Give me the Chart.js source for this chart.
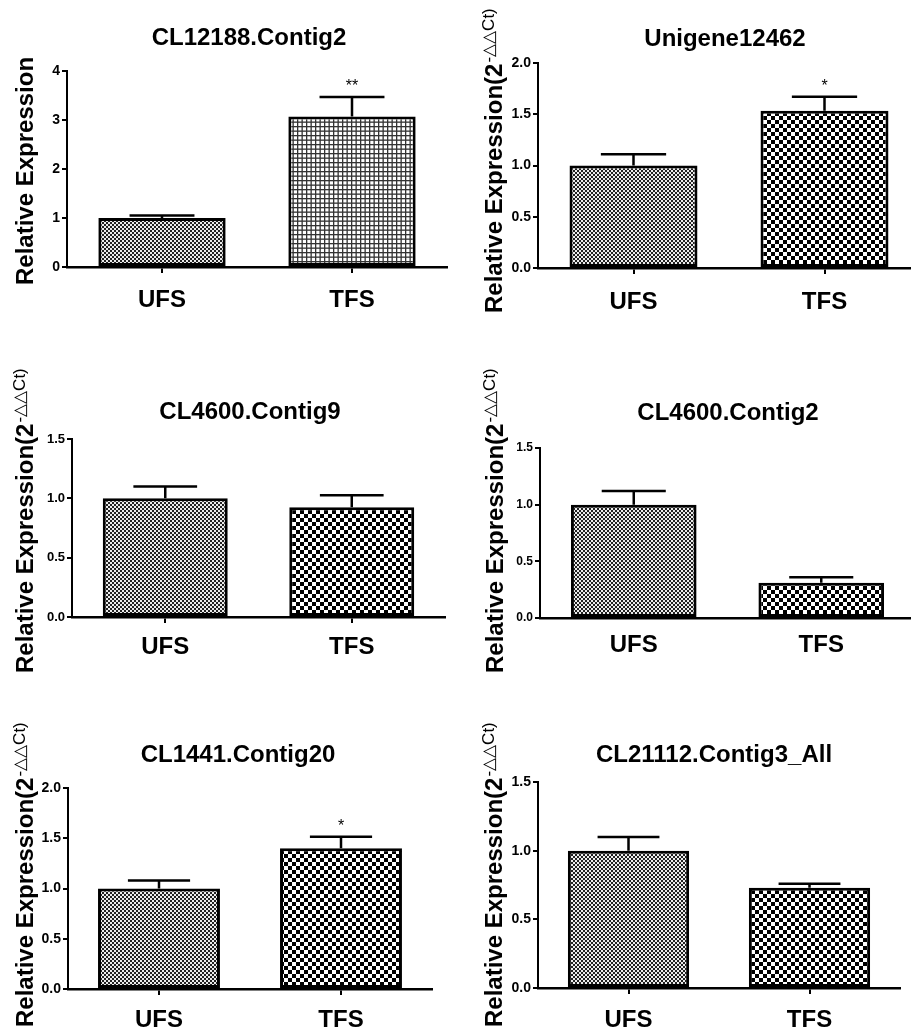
<!DOCTYPE html>
<html>
<head>
<meta charset="UTF-8">
<title>Relative Expression – UFS vs TFS</title>
<script src="https://cdn.jsdelivr.net/npm/chart.js"></script>
<style>
  html, body { margin: 0; padding: 0; background: #fff; overflow: hidden; width: 911px; height: 1032px; }
  canvas { position: absolute; }
</style>
</head>
<body>
<script>
  // ---- data ----
  const groups  = ['UFS', 'TFS'];
  const genes   = ['CL12188.Contig2', 'Unigene12462', 'CL4600.Contig9', 'CL4600.Contig2', 'CL1441.Contig20', 'CL21112.Contig3_All'];
  const ufsMean = [1.00, 1.00, 1.00, 1.00, 1.00, 1.00];
  const ufsErr  = [0.05, 0.11, 0.10, 0.12, 0.08, 0.10];
  const tfsMean = [3.07, 1.535, 0.925, 0.31, 1.40, 0.73];
  const tfsErr  = [0.40, 0.135, 0.10, 0.05, 0.115, 0.03];
  const stars   = [['', '**'], ['', '*'], ['', ''], ['', ''], ['', '*'], ['', '']];
  const yMax    = [4, 2, 1.5, 1.5, 2, 1.5];
  const yStep   = [1, 0.5, 0.5, 0.5, 0.5, 0.5];
  const yDec    = [0, 1, 1, 1, 1, 1];
  const yTitle  = ['Relative Expression', 'Relative Expression(2', 'Relative Expression(2',
                   'Relative Expression(2', 'Relative Expression(2', 'Relative Expression(2'];
  const ySup    = ['', '-△△Ct)', '-△△Ct)', '-△△Ct)', '-△△Ct)', '-△△Ct)'];
  const tfsFill = ['grid', 'coarse', 'coarse', 'coarse', 'coarse', 'coarse'];

  // ---- layout (page pixels) ----
  const FONT = "'Liberation Sans', Arial, sans-serif";
  const boxes = [[0, 0, 455, 330], [455, 0, 465, 330], [0, 330, 455, 360], [455, 330, 465, 360], [0, 690, 455, 362], [455, 690, 465, 362]];
  const plots = [[67, 71, 447, 267], [538, 63, 920, 268], [72, 439, 445, 617], [540, 448, 915, 618], [68, 788, 432, 989], [538, 782, 900, 988]];
  const titlePos  = [[249, 38], [725, 39], [250, 412], [728, 413], [238, 755], [714, 755]];
  const yTitlePos = [[33, 285], [502, 313], [33, 673], [503, 673], [33, 1027], [502, 1027]];
  const labelOff  = [33, 34, 30, 27, 31, 32];
  const tickSize  = [14, 14, 13, 12, 14, 14];
  const Y_W = 40, X_H = 58;

  function makePattern(kind) {
    const c = document.createElement('canvas');
    const g = c.getContext('2d');
    if (kind === 'fine') {
      c.width = c.height = 4;
      g.fillStyle = '#ececec'; g.fillRect(0, 0, 4, 4);
      g.fillStyle = '#222'; g.fillRect(0, 0, 2, 2); g.fillRect(2, 2, 2, 2);
    } else if (kind === 'coarse') {
      c.width = c.height = 8;
      g.fillStyle = '#fff'; g.fillRect(0, 0, 8, 8);
      g.fillStyle = '#000'; g.fillRect(0, 0, 4, 4); g.fillRect(4, 4, 4, 4);
    } else {
      c.width = c.height = 9;
      g.fillStyle = '#fff'; g.fillRect(0, 0, 9, 9);
      g.fillStyle = '#333';
      g.fillRect(0, 0, 9, 1.3); g.fillRect(0, 4.5, 9, 1.3);
      g.fillRect(0, 0, 1.3, 9); g.fillRect(4.5, 0, 1.3, 9);
    }
    return g.createPattern(c, 'repeat');
  }

  function panelPlugin(i) {
    const [bx, by] = boxes[i];
    return {
      id: 'panel' + i,
      afterDatasetsDraw(chart) {
        const ctx = chart.ctx, ys = chart.scales.y;
        const bars = chart.getDatasetMeta(0).data;
        const means = [ufsMean[i], tfsMean[i]], errs = [ufsErr[i], tfsErr[i]];
        ctx.save();
        ctx.strokeStyle = '#000';
        ctx.fillStyle = '#000';
        ctx.lineWidth = 2.5;
        bars.forEach((b, k) => {
          const top = ys.getPixelForValue(means[k] + errs[k]);
          const cap = b.width * 0.51;
          ctx.beginPath();
          ctx.moveTo(b.x, b.y); ctx.lineTo(b.x, top);
          ctx.moveTo(b.x - cap / 2, top); ctx.lineTo(b.x + cap / 2, top);
          ctx.stroke();
          if (stars[i][k]) {
            ctx.font = '16px ' + FONT;
            ctx.textAlign = 'center';
            ctx.textBaseline = 'alphabetic';
            ctx.fillText(stars[i][k], b.x, top - 6);
          }
        });
        ctx.restore();
      },
      afterDraw(chart) {
        const ctx = chart.ctx;
        ctx.save();
        ctx.fillStyle = '#000';
        // panel title
        ctx.font = 'bold 24px ' + FONT;
        ctx.textAlign = 'center';
        ctx.textBaseline = 'middle';
        ctx.fillText(genes[i], titlePos[i][0] - bx, titlePos[i][1] - by);
        // rotated y title with superscript
        ctx.translate(yTitlePos[i][0] - bx, yTitlePos[i][1] - by);
        ctx.rotate(-Math.PI / 2);
        ctx.textAlign = 'left';
        ctx.textBaseline = 'alphabetic';
        ctx.fillText(yTitle[i], 0, 0);
        if (ySup[i]) {
          const w = ctx.measureText(yTitle[i]).width;
          ctx.font = '17px ' + FONT;
          ctx.fillText(ySup[i], w + 1, -8);
        }
        ctx.restore();
      }
    };
  }

  const fine = makePattern('fine');

  genes.forEach((g, i) => {
    const [bx, by, bw, bh] = boxes[i];
    const [pl, pt, pr, pb] = plots[i];
    const cv = document.createElement('canvas');
    cv.width = bw; cv.height = bh;
    cv.style.left = bx + 'px'; cv.style.top = by + 'px';
    cv.style.width = bw + 'px'; cv.style.height = bh + 'px';
    document.body.appendChild(cv);

    new Chart(cv, {
      type: 'bar',
      data: {
        labels: groups,
        datasets: [{
          data: [ufsMean[i], tfsMean[i]],
          backgroundColor: [fine, makePattern(tfsFill[i])],
          borderColor: '#000',
          borderWidth: 3,
          borderSkipped: false,
          barPercentage: 0.67,
          categoryPercentage: 1
        }]
      },
      options: {
        responsive: false,
        animation: false,
        devicePixelRatio: 1,
        layout: { padding: { left: pl - bx - Y_W, top: pt - by, right: bx + bw - pr, bottom: by + bh - pb - X_H } },
        plugins: { legend: { display: false }, tooltip: { enabled: false } },
        scales: {
          x: {
            grid: { display: true, drawOnChartArea: false, offset: false, tickLength: 6, lineWidth: 2,
                    color: '#000', tickColor: i === 3 ? 'rgba(0,0,0,0)' : '#000' },
            border: { color: '#000', width: 2.5 },
            ticks: { color: '#000', font: { family: FONT, size: 24, weight: 'bold' }, padding: labelOff[i] - 6 - 14.4 },
            afterFit: s => { s.height = X_H; }
          },
          y: {
            min: 0, max: yMax[i],
            grid: { display: true, drawOnChartArea: false, tickLength: 5, lineWidth: 2, color: '#000' },
            border: { color: '#000', width: 2 },
            ticks: { stepSize: yStep[i], color: '#000', padding: 2,
                     font: { family: FONT, size: tickSize[i], weight: 'bold' },
                     callback: v => Number(v).toFixed(yDec[i]) },
            afterFit: s => { s.width = Y_W; }
          }
        }
      },
      plugins: [panelPlugin(i)]
    });
  });
</script>
</body>
</html>
